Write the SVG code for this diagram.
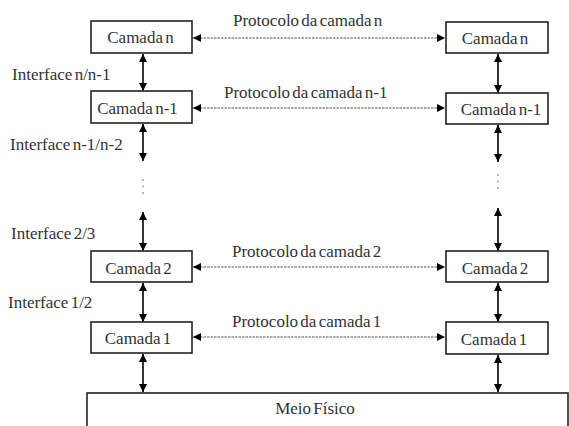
<svg xmlns="http://www.w3.org/2000/svg" width="569" height="426" viewBox="0 0 569 426" font-family="Liberation Serif, Times New Roman, Times, DejaVu Serif, serif">
<defs>
<marker id="ah" viewBox="0 0 10 10" refX="10" refY="5" markerWidth="8" markerHeight="8" markerUnits="userSpaceOnUse" orient="auto-start-reverse">
<path d="M0,0 L10,5 L0,10 z" fill="#000"/>
</marker>
</defs>
<style>
.box{fill:#fff;stroke:#222;stroke-width:1.6}
.t{font-size:17px;fill:#333;word-spacing:-2px}
.c{text-anchor:middle}
.v{stroke:#000;stroke-width:1.6;fill:none;marker-start:url(#ah);marker-end:url(#ah)}
.h{stroke:#555;stroke-width:1.2;stroke-dasharray:2.5,1;fill:none;marker-start:url(#ah);marker-end:url(#ah)}
.d{stroke:#888;stroke-width:1.2;stroke-dasharray:2,4.5;fill:none}
</style>
<rect width="569" height="426" fill="#fff"/>
<g id="connectors">
<line class="h" x1="193" y1="38" x2="445" y2="38"/>
<line class="h" x1="193" y1="108" x2="445" y2="108"/>
<line class="h" x1="193" y1="267" x2="445" y2="267"/>
<line class="h" x1="193" y1="337" x2="445" y2="337"/>
<line class="v" x1="143" y1="54" x2="143" y2="91"/>
<line class="v" x1="143" y1="124" x2="143" y2="161"/>
<line class="v" x1="143" y1="212" x2="143" y2="251"/>
<line class="v" x1="143" y1="283" x2="143" y2="322"/>
<line class="v" x1="143" y1="354" x2="143" y2="392"/>
<line class="v" x1="498" y1="54" x2="498" y2="93"/>
<line class="v" x1="498" y1="125" x2="498" y2="162"/>
<line class="v" x1="498" y1="208" x2="498" y2="251"/>
<line class="v" x1="498" y1="283" x2="498" y2="322"/>
<line class="v" x1="498" y1="355" x2="498" y2="392"/>
<line class="d" x1="143" y1="179" x2="143" y2="197"/>
<line class="d" x1="498" y1="174" x2="498" y2="192"/>
</g>
<g id="label-protocols">
<text class="t" x="233" y="26">Protocolo da camada n</text>
<text class="t" x="224" y="98">Protocolo da camada n-1</text>
<text class="t" x="232" y="257">Protocolo da camada 2</text>
<text class="t" x="232" y="327">Protocolo da camada 1</text>
</g>
<g id="label-interfaces">
<text class="t" x="12" y="80">Interface n/n-1</text>
<text class="t" x="10" y="150">Interface n-1/n-2</text>
<text class="t" x="11" y="239">Interface 2/3</text>
<text class="t" x="8" y="308">Interface 1/2</text>
</g>
<g id="left-n"><rect class="box" x="91" y="21" width="101" height="32"/><text class="t c" x="140.5" y="43">Camada n</text></g>
<g id="left-n1"><rect class="box" x="91" y="91" width="101" height="32"/><text class="t c" x="137.5" y="114">Camada n-1</text></g>
<g id="left-2"><rect class="box" x="91" y="251" width="101" height="31"/><text class="t c" x="138.5" y="274">Camada 2</text></g>
<g id="left-1"><rect class="box" x="91" y="322" width="101" height="31"/><text class="t c" x="138" y="344">Camada 1</text></g>
<g id="right-n"><rect class="box" x="446" y="22" width="102" height="31"/><text class="t c" x="495" y="44">Camada n</text></g>
<g id="right-n1"><rect class="box" x="446" y="93" width="102" height="31"/><text class="t c" x="501" y="115">Camada n-1</text></g>
<g id="right-2"><rect class="box" x="446" y="251" width="102" height="31"/><text class="t c" x="495" y="274">Camada 2</text></g>
<g id="right-1"><rect class="box" x="446" y="322" width="102" height="32"/><text class="t c" x="494" y="345">Camada 1</text></g>
<g id="meio"><rect class="box" x="87" y="393" width="481" height="40"/><text class="t c" x="315" y="414">Meio Físico</text></g>
</svg>
